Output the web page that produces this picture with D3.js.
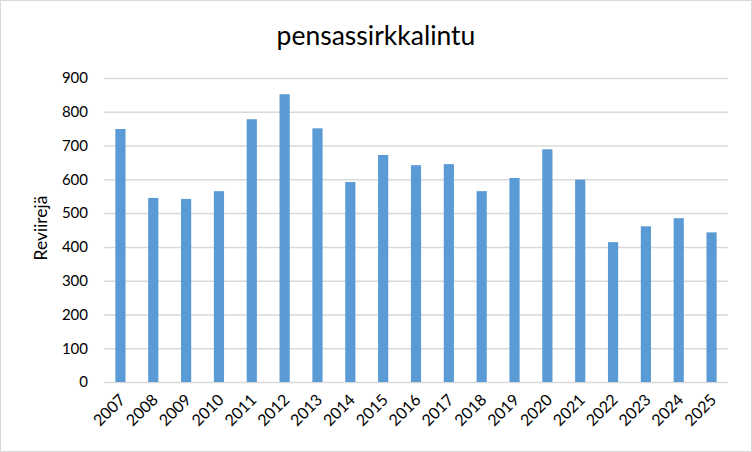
<!DOCTYPE html>
<html>
<head>
<meta charset="utf-8">
<script src="https://cdn.jsdelivr.net/npm/d3@7"></script>
<style>
  body { margin: 0; background: #fff; }
  svg { display: block; font-family: Lato, "Open Sans", sans-serif; }
</style>
</head>
<body>
<svg id="chart" width="752" height="452"></svg>
<script>
// data
var years = ['2007', '2008', '2009', '2010', '2011', '2012', '2013', '2014', '2015', '2016',
             '2017', '2018', '2019', '2020', '2021', '2022', '2023', '2024', '2025'];
var territories = [749, 545, 542, 565, 778, 852, 751, 592, 672, 642,
                   645, 565, 604, 689, 599, 414, 461, 485, 443];
var yTicks = [0, 100, 200, 300, 400, 500, 600, 700, 800, 900];
var title = 'pensassirkkalintu';
var yLabel = 'Reviirejä';

var width = 752,
    height = 452,
    margin = {top: 78, right: 24, bottom: 70, left: 104},
    barColor = '#5b9bd5',
    gridColor = '#d9d9d9';

var svg = d3.select('#chart');

svg.append('rect')
    .attr('x', 0.5).attr('y', 0.5)
    .attr('width', width - 1).attr('height', height - 1)
    .attr('fill', '#fff')
    .attr('stroke', gridColor);

var x = d3.scaleBand()
    .domain(years)
    .range([margin.left, width - margin.right])
    .paddingInner(0.69)
    .paddingOuter(0.345);

var y = d3.scaleLinear()
    .domain([0, 900])
    .range([height - margin.bottom, margin.top]);

// gridlines + y labels
var yAxis = d3.axisLeft(y)
    .tickValues(yTicks)
    .tickSize(-(width - margin.left - margin.right))
    .tickPadding(16);

svg.append('g')
    .attr('transform', 'translate(' + margin.left + ',0)')
    .call(yAxis)
    .call(function (g) { g.select('.domain').remove(); })
    .call(function (g) {
        g.selectAll('line').attr('stroke', gridColor).attr('stroke-width', 1.5);
        g.selectAll('text')
          .attr('fill', '#000')
          .style('font-size', '15px')
          .style('font-family', 'Lato, "Open Sans", sans-serif');
    });

// bars
svg.append('g')
  .selectAll('rect')
  .data(years)
  .enter().append('rect')
    .attr('x', function (d) { return x(d); })
    .attr('y', function (d, i) { return y(territories[i]); })
    .attr('width', x.bandwidth())
    .attr('height', function (d, i) { return y(0) - y(territories[i]); })
    .attr('fill', barColor);

// x labels
var xAxis = d3.axisBottom(x).tickSize(0).tickPadding(0);

svg.append('g')
    .attr('transform', 'translate(0,' + y(0) + ')')
    .call(xAxis)
    .call(function (g) { g.select('.domain').remove(); })
    .call(function (g) {
        g.selectAll('text')
          .attr('fill', '#000')
          .attr('text-anchor', 'end')
          .attr('dy', null)
          .attr('transform', 'translate(3,16) rotate(-45)')
          .attr('y', 0).attr('x', 0)
          .attr('dominant-baseline', 'middle')
          .style('font-size', '16px')
          .style('font-family', 'Lato, "Open Sans", sans-serif');
    });

// title
svg.append('text')
    .attr('x', width / 2)
    .attr('y', 45)
    .attr('text-anchor', 'middle')
    .attr('fill', '#000')
    .style('font-size', '26.5px')
    .text(title);

// y axis title
svg.append('text')
    .attr('transform', 'translate(47,' + (y(450) - 2) + ') rotate(-90)')
    .attr('text-anchor', 'middle')
    .attr('fill', '#000')
    .style('font-size', '17.5px')
    .text(yLabel);
</script>
</body>
</html>
